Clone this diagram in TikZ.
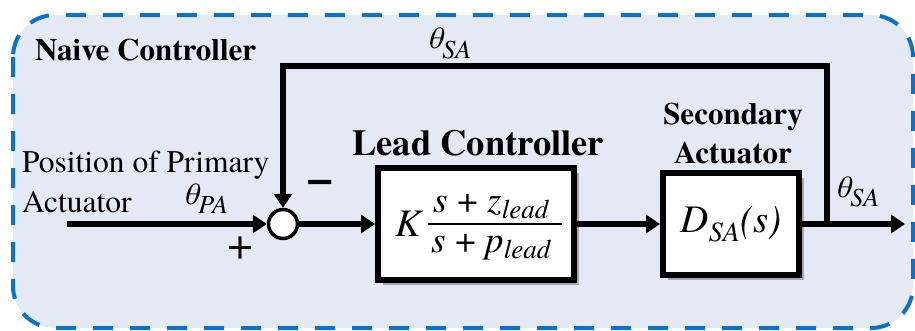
\documentclass[tikz,border=0pt]{standalone}
\usepackage{fontspec}
\setmainfont{texgyretermes}[Extension=.otf, UprightFont=*-regular, BoldFont=*-bold, ItalicFont=*-italic, BoldItalicFont=*-bolditalic]
\usetikzlibrary{arrows.meta,shadows}
\definecolor{bgfill}{HTML}{E4EAF5}
\definecolor{dashblue}{HTML}{0E72C4}
\newcommand\fs[1]{\fontsize{#1}{#1}\selectfont}
\newcommand\lowsub[3]{\raisebox{#1}{\fontsize{#2}{#2}\selectfont\itshape #3}}
\tikzset{
  txt/.style={inner sep=0pt, text=black},
  blk/.style={draw=black, line width=6pt, fill=white, inner sep=0pt,
    drop shadow={shadow xshift=5pt, shadow yshift=-5pt, fill=black!60, opacity=0.5}},
  conn/.style={draw=black, line width=5.5pt, -{Triangle[length=14pt,width=18pt]}},
  sumnode/.style={circle, draw=black, line width=3.5pt, fill=white, minimum size=29pt, inner sep=0pt}
}
\begin{document}
\begin{tikzpicture}[x=1pt,y=-1pt]
\useasboundingbox (0,0) rectangle (915,330);
% outer dashed region
\draw[fill=bgfill, draw=dashblue, line width=4pt, dash pattern=on 20pt off 17pt, rounded corners=42pt]
  (13,15) rectangle (913,328);

% labels
\node[txt, anchor=base west, font=\fs{31}\bfseries] (naive) at (35,60) {Naive Controller};
\node[txt, anchor=base west, font=\fs{31}] (tsatop) at (427,48) {\itshape θ\lowsub{-10pt}{26}{SA}};
\node[txt, anchor=base west, font=\fs{36.5}\bfseries] (leadlbl) at (352,155) {Lead Controller};
\node[txt, anchor=base, font=\fs{31}\bfseries] (seclbl1) at (733,124) {Secondary};
\node[txt, anchor=base, font=\fs{31}\bfseries] (seclbl2) at (733,163) {Actuator};
\node[txt, anchor=base west, font=\fs{31.5}] (pos1) at (22,172) {Position of Primary};
\node[txt, anchor=base west, font=\fs{31.5}] (pos2) at (22,212) {Actuator};
\node[txt, anchor=base west, font=\fs{31}] (tpa) at (183,204) {\itshape θ\lowsub{-9pt}{26}{PA}};
\node[txt, font=\fs{48}\bfseries] (minus) at (320,187) {−};
\node[txt, font=\fs{46}] (plus) at (240,248) {+};
\node[txt, anchor=base west, font=\fs{31}] (tsaout) at (835,197) {\itshape θ\lowsub{-9pt}{26}{SA}};

% blocks
\node[sumnode] (sum) at (283,224) {};
\node[blk, minimum width=196pt, minimum height=112pt] (lead) at (476,224) {};
\node[blk, minimum width=136pt, minimum height=102pt, font=\fs{39}] (sec) at (731,224)
  {\itshape D\lowsub{-9pt}{28}{SA}(s)};

% lead controller contents
\node[txt, anchor=base west, font=\fs{39}] (K) at (395,236) {\itshape K};
\node[txt, anchor=base, font=\fs{37}] (num) at (491,212) {\itshape s \upshape+ \itshape z\lowsub{-6pt}{27}{lead}};
\node[txt, anchor=base, font=\fs{37}] (den) at (491,252) {\itshape s \upshape+ \itshape p\lowsub{-6pt}{27}{lead}};
\draw[line width=2pt] (428,224) -- (562,224);

% connectors
\coordinate (in) at (67,224);
\coordinate (br) at (827,224);
\coordinate (out) at (905,224);
\coordinate (fbtop) at (827,66);
\draw[conn] (in) -- (sum.west);
\draw[conn] (sum.east) -- (lead.west);
\draw[conn] (lead.east) -- (sec.west);
\draw[conn] (sec.east) -- (out);
\draw[conn] (br) -- (fbtop) -| (sum.north);
\end{tikzpicture}
\end{document}
